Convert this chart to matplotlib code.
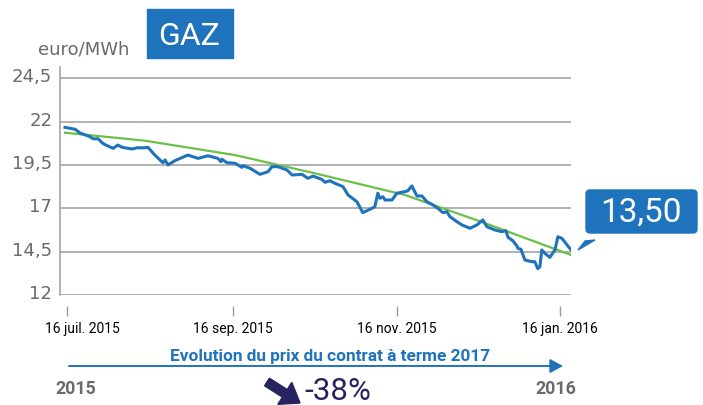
#
# Prix du contrat a terme gaz 2017 (euro/MWh), juillet 2015 -> janvier 2016
#

import matplotlib
matplotlib.use('Agg')
import matplotlib.pyplot as plt
from matplotlib.patches import Rectangle, FancyBboxPatch, Polygon, FancyArrow
from matplotlib.transforms import ScaledTranslation


# donnees (jours depuis le 16 juil. 2015)
prix_jours = [-0.75, 3.0, 4.9, 8.6, 9.7, 11.6, 13.1, 14.2, 17.2, 19.0,
              20.5, 24.3, 26.1, 29.1, 30.2, 32.8, 35.8, 36.6, 37.7, 40.3,
              45.1, 48.9, 52.6, 56.3, 57.5, 57.8, 59.7, 62.7, 65.3, 65.7,
              68.3, 72.0, 75.0, 76.5, 78.7, 82.1, 84.0, 87.7, 89.9, 91.8,
              95.1, 96.3, 98.1, 100.0, 103.0, 104.9, 108.2, 110.4, 113.8, 114.9,
              116.0, 116.8, 117.9, 118.7, 121.3, 123.1, 126.1, 127.2, 128.7, 130.6,
              132.5, 134.3, 136.6, 138.4, 140.3, 141.8, 142.9, 145.5, 147.4, 150.4,
              153.0, 155.2, 156.7, 159.7, 162.3, 163.8, 164.6, 166.4, 167.9, 168.3,
              169.4, 170.9, 173.5, 174.6, 175.7, 176.5, 177.2, 178.4, 180.2, 182.1,
              183.2, 184.7, 188.1]
prix_valeurs = [21.67, 21.56, 21.34, 21.13, 21.01, 21.01, 20.78, 20.67, 20.46, 20.65,
                20.52, 20.42, 20.49, 20.49, 20.52, 20.07, 19.63, 19.79, 19.50, 19.75,
                20.07, 19.88, 20.03, 19.88, 19.69, 19.83, 19.63, 19.60, 19.36, 19.46,
                19.31, 18.96, 19.11, 19.40, 19.40, 19.21, 18.92, 18.96, 18.73, 18.86,
                18.67, 18.50, 18.59, 18.44, 18.25, 17.77, 17.38, 16.75, 17.00, 17.09,
                17.87, 17.58, 17.67, 17.48, 17.48, 17.87, 17.96, 18.01, 18.29, 17.71,
                17.71, 17.38, 17.19, 17.00, 16.75, 16.80, 16.52, 16.23, 16.04, 15.85,
                16.04, 16.33, 15.94, 15.75, 15.65, 15.71, 15.33, 15.13, 14.83, 14.69,
                14.64, 14.02, 13.92, 13.92, 13.52, 13.63, 14.60, 14.40, 14.17, 14.60,
                15.36, 15.27, 14.60]

# courbe de tendance (verte)
tendance_jours = [-0.75, 29.1, 62.7, 92.5, 126.1, 155.2, 188.1]
tendance_valeurs = [21.36, 20.90, 20.07, 19.02, 17.77, 16.19, 14.31]

y_ticks = [12, 14.5, 17, 19.5, 22, 24.5]
y_labels = ['12', '14,5', '17', '19,5', '22', '24,5']
x_ticks = [0, 62, 123, 184]
x_labels = ['16 juil. 2015', '16 sep. 2015', '16 nov. 2015', '16 jan. 2016']

dernier_prix = '13,50'
variation = '-38%'


bleu = '#1f73bd'
vert = '#6cbf48'
gris = '#9c9c9c'
gris_texte = '#6a6a6a'
marine = '#27235f'
plt.rcParams['font.family'] = ['Roboto', 'DejaVu Sans']   # pas de police condensee installee


fig = plt.figure(figsize=(7.03, 4.05), dpi=100)
W, H = 703, 405
ax = fig.add_axes([60 / W, (H - 295) / H, (571 - 60) / W, (295 - 67) / H])

ax.plot(tendance_jours, tendance_valeurs, color=vert, lw=1.6, zorder=3)
ax.plot(prix_jours, prix_valeurs, color=bleu, lw=2.2, zorder=4, solid_joinstyle='round')

ax.set_xlim(-2.61, 188.1)
ax.set_ylim(12, 25.15)

# grille horizontale (la ligne a 12 sert d'axe du bas)
ax.set_yticks(y_ticks)
ax.set_yticklabels(y_labels, fontsize=13, color=gris_texte, family='DejaVu Sans')
ax.yaxis.grid(True, color=gris, lw=1.1)
ax.set_axisbelow(True)
ax.tick_params(axis='y', length=0, pad=5.5)
for lab in ax.get_yticklabels():
    lab.set_transform(lab.get_transform() + ScaledTranslation(0, 3 / 100, fig.dpi_scale_trans))

ax.set_xticks(x_ticks)
ax.set_xticklabels(x_labels, fontsize=8.8, color='#7a7a7a')
ax.tick_params(axis='x', length=7.2, width=1, color=gris, pad=4)
ax.spines['bottom'].set_position(('outward', 8))
ax.spines['bottom'].set_visible(False)
ax.spines['top'].set_visible(False)
ax.spines['right'].set_visible(False)
ax.spines['left'].set_color(gris)
ax.spines['left'].set_linewidth(1.1)

# premier label decale vers la droite comme sur l'original
premier = ax.get_xticklabels()[0]
premier.set_transform(premier.get_transform() + ScaledTranslation(15 / 100, 0, fig.dpi_scale_trans))


# calque en pixels pour les annotations
ov = fig.add_axes([0, 0, 1, 1], zorder=10)
ov.set_xlim(0, W)
ov.set_ylim(H, 0)
ov.axis('off')

ov.text(84, 54.5, 'euro/MWh', fontsize=13, color=gris_texte, ha='center', va='baseline',
        family='DejaVu Sans')
ov.add_patch(Rectangle((147, 9), 86, 49, color=bleu))
ov.text(189, 45, 'GAZ', fontsize=23, color='white', ha='center', va='baseline')

ov.add_patch(FancyBboxPatch((586, 190), 111, 43, boxstyle='round,pad=0,rounding_size=4',
                            color=bleu))
ov.add_patch(Polygon([(578, 250), (595, 240), (585, 241)], closed=True, color=bleu))
ov.text(641, 221.5, dernier_prix, fontsize=24, color='white', ha='center', va='baseline')

ov.text(330, 360.5, 'Evolution du prix du contrat à terme 2017', fontsize=12.4, color=bleu,
        ha='center', va='baseline', fontweight='bold')
ov.annotate('', xy=(563, 366), xytext=(69, 366),
            arrowprops=dict(arrowstyle='-|>,head_length=0.55,head_width=0.3', color=bleu,
                            lw=1.4, mutation_scale=14, shrinkA=0, shrinkB=0))

ov.text(76, 393.5, '2015', fontsize=12.8, color=gris_texte, ha='center', va='baseline',
        fontweight='bold')
ov.text(556, 393.5, '2016', fontsize=12.8, color=gris_texte, ha='center', va='baseline',
        fontweight='bold')

ov.add_patch(FancyArrow(267, 382, 33, 21, width=9, head_width=26, head_length=18,
                        length_includes_head=True, color=marine))
ov.text(338, 400.5, variation, fontsize=22.5, color=marine, ha='center', va='baseline')

plt.savefig('out.png', dpi=100)
